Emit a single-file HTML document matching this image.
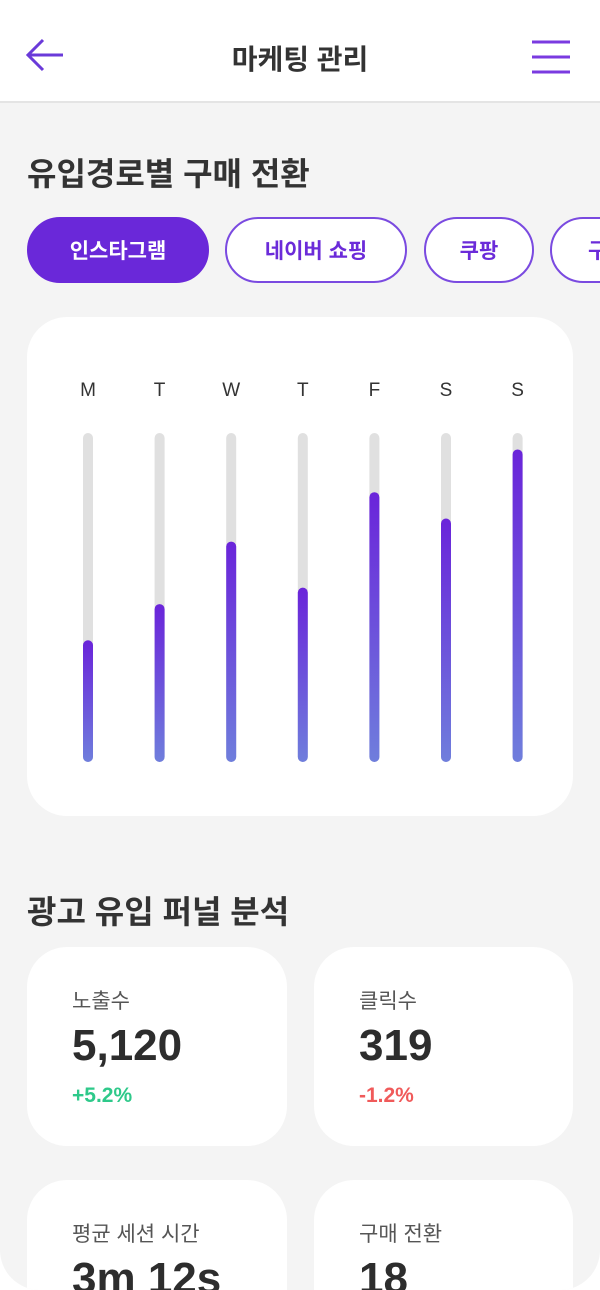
<!DOCTYPE html>
<html><head><meta charset="utf-8">
<style>
*{margin:0;padding:0;box-sizing:border-box}
html,body{width:600px;height:1290px;overflow:hidden;background:#fff;font-family:"Liberation Sans","Noto Sans CJK KR",sans-serif}
.frame{position:absolute;left:0;top:0;width:600px;height:1290px;background:#f4f4f4;border-radius:0 0 40px 40px;overflow:hidden}
.header{position:absolute;left:0;top:0;width:600px;height:103px;background:#fff;border-bottom:2px solid #e4e4e4}
.title{position:absolute;left:0;width:600px;top:38px;text-align:center;font-size:28px;font-weight:bold;color:#333}
.h2{position:absolute;left:27px;font-size:32px;font-weight:bold;color:#333}
.chip{position:absolute;top:217px;height:66px;border-radius:33px;border:2px solid #7a4ae0;background:#fff;color:#6b2bd9;font-size:21px;font-weight:bold;display:flex;align-items:center;justify-content:center}
.chip.active{background:#6a28d9;color:#fff;border-color:#6a28d9}
.card{position:absolute;background:#fff;border-radius:40px;overflow:hidden}
.lbl{position:absolute;left:45px;top:38px;font-size:21px;color:#555}
.val{position:absolute;left:45px;top:74px;font-size:44px;font-weight:bold;color:#2d2d2d}
.chg{position:absolute;left:45px;top:137px;font-size:21px;font-weight:bold}
</style></head><body>
<div class="frame">
<div class="header">
 <svg style="position:absolute;left:25px;top:38px" width="40" height="34"><path d="M38 17H3M18 2L3 17L18 32" stroke="#6a3ad9" stroke-width="3" fill="none"/></svg>
 <div class="title">마케팅 관리</div>
 <svg style="position:absolute;left:532px;top:39px" width="38" height="36"><path d="M0 3H38M0 18H38M0 33H38" stroke="#7a3ae0" stroke-width="3"/></svg>
</div>
<div class="h2" style="top:149px">유입경로별 구매 전환</div>
<div class="chip active" style="left:27px;width:182px">인스타그램</div>
<div class="chip" style="left:225px;width:182px">네이버 쇼핑</div>
<div class="chip" style="left:424px;width:110px">쿠팡</div>
<div class="chip" style="left:550px;width:120px;justify-content:flex-start;padding-left:36px">구글</div>
<div class="card" style="left:27px;top:317px;width:546px;height:499px">
<svg id="chart" width="546" height="499">
<defs><linearGradient id="g" x1="0" y1="0" x2="0" y2="1"><stop offset="0" stop-color="#6a24da"/><stop offset="1" stop-color="#6f7edc"/></linearGradient></defs>
</svg>
</div>
<div class="h2" style="top:887px">광고 유입 퍼널 분석</div>
<div class="card" style="left:27px;top:947px;width:260px;height:199px">
 <div class="lbl">노출수</div><div class="val">5,120</div><div class="chg" style="color:#2ec98a">+5.2%</div></div>
<div class="card" style="left:314px;top:947px;width:259px;height:199px">
 <div class="lbl">클릭수</div><div class="val">319</div><div class="chg" style="color:#f05a5a">-1.2%</div></div>
<div class="card" style="left:27px;top:1180px;width:260px;height:110px;border-radius:40px 40px 0 0">
 <div class="lbl">평균 세션 시간</div><div class="val">3m 12s</div></div>
<div class="card" style="left:314px;top:1180px;width:259px;height:110px;border-radius:40px 40px 0 0">
 <div class="lbl">구매 전환</div><div class="val">18</div></div>
</div>
<script>
const days=["M","T","W","T","F","S","S"];
const values=[37,48,67,53,82,74,95];
const maxVal=100;
const svg=document.getElementById('chart');
const NS='http://www.w3.org/2000/svg';
const x0=61,step=71.6,top0=116,bot=445,bw=10;
function xs(i){return x0+i*step;}
function ys(v){return bot-(v/maxVal)*(bot-top0);}
days.forEach((d,i)=>{
 const t=document.createElementNS(NS,'text');
 t.setAttribute('x',xs(i));t.setAttribute('y',79);t.setAttribute('text-anchor','middle');
 t.setAttribute('font-size','19');t.setAttribute('fill','#333');t.setAttribute('font-family','Liberation Sans, sans-serif');
 t.textContent=d;
 
 
 svg.appendChild(t);
 const tr=document.createElementNS(NS,'rect');
 tr.setAttribute('x',xs(i)-bw/2);tr.setAttribute('y',top0);tr.setAttribute('width',bw);tr.setAttribute('height',bot-top0);tr.setAttribute('rx',5);tr.setAttribute('fill','#e0e0e0');
 
 
 svg.appendChild(tr);
 const b=document.createElementNS(NS,'rect');
 b.setAttribute('x',xs(i)-bw/2);b.setAttribute('y',ys(values[i]));b.setAttribute('width',bw);b.setAttribute('height',bot-ys(values[i]));b.setAttribute('rx',5);b.setAttribute('fill','url(#g)');
 
 
 svg.appendChild(b);
});
</script>
</body></html>
